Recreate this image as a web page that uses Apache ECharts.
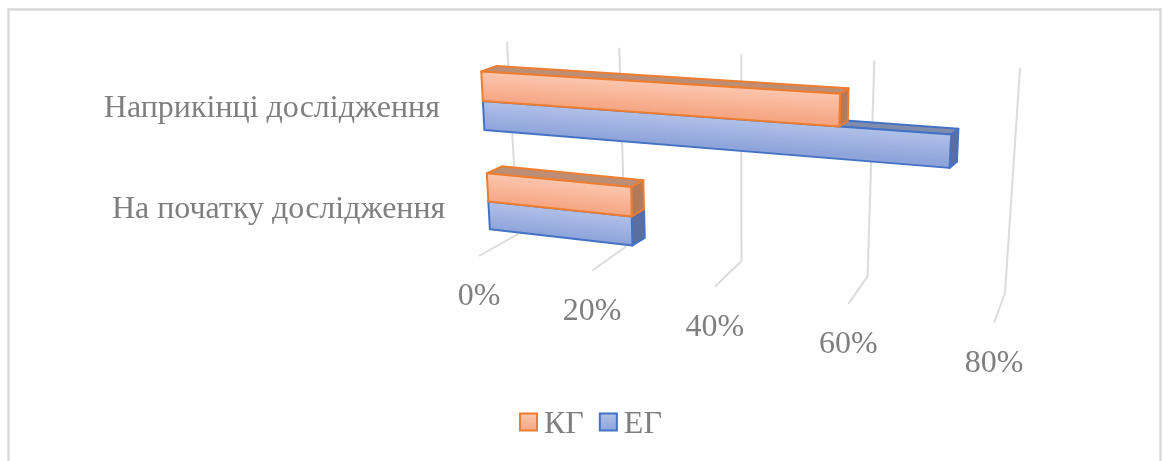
<!DOCTYPE html>
<html>
<head>
<meta charset="utf-8">
<style>
  html, body { margin: 0; padding: 0; background: #fff; }
  #main { width: 1163px; height: 461px; }
</style>
<script src="https://cdn.jsdelivr.net/npm/echarts@6/dist/echarts.min.js"></script>
</head>
<body>
<div id="main"></div>
<script>
// bottom row first, the category axis runs upwards
const categories = ['На початку дослідження', 'Наприкінці дослідження']
const kgValues = [25, 57]
const egValues = [25, 72.5]
const tickValues = [0, 20, 40, 60, 80]

const textColor = '#7f7f7f'
const serif = '"Liberation Serif", serif'

// flat plot area, everything in it goes through the perspective below
const gridBox = { left: 100, top: 50, width: 800, height: 300 }

// quad corners of each depth plane: floor-left, floor-right, top-right, top-left
const planes = {
  floor: [[479, 256], [994, 323], [1012, 75], [466, 45]],
  front: [[491, 250], [997, 311], [1012, 78], [480, 49]],
  back: [[506, 242], [1005, 304], [1018, 73], [495, 44]],
  wall: [[518, 234], [1005, 293], [1020, 68], [507, 42]],
}

function makePlane(q) {
  const [[x0, y0], [x1, y1], [x2, y2], [x3, y3]] = q
  const dx1 = x1 - x2
  const dx2 = x3 - x2
  const sx = x0 - x1 + x2 - x3
  const dy1 = y1 - y2
  const dy2 = y3 - y2
  const sy = y0 - y1 + y2 - y3
  const det = dx1 * dy2 - dx2 * dy1
  const g = (sx * dy2 - dx2 * sy) / det
  const h = (dx1 * sy - sx * dy1) / det
  const a = x1 - x0 + g * x1
  const b = x3 - x0 + h * x3
  const d = y1 - y0 + g * y1
  const e = y3 - y0 + h * y3
  // takes a pixel of the flat grid, gives the pixel on the plane
  return (p) => {
    const s = (p[0] - gridBox.left) / gridBox.width
    const t = (gridBox.top + gridBox.height - p[1]) / gridBox.height
    const w = g * s + h * t + 1
    return [(a * s + b * t + x0) / w, (d * s + e * t + y0) / w]
  }
}

const floorP = makePlane(planes.floor)
const frontP = makePlane(planes.front)
const backP = makePlane(planes.back)
const wallP = makePlane(planes.wall)

// gradient across a face: runs square to the long edge a-b, from a to the far edge through c
function faceGrad(a, b, c, from, to) {
  const ex = b[0] - a[0]
  const ey = b[1] - a[1]
  const len = Math.hypot(ex, ey) || 1
  const nx = -ey / len
  const ny = ex / len
  const dist = (c[0] - a[0]) * nx + (c[1] - a[1]) * ny
  return new echarts.graphic.LinearGradient(a[0], a[1], a[0] + nx * dist, a[1] + ny * dist, [
    { offset: 0, color: from },
    { offset: 1, color: to },
  ], true)
}

function boxItem(slot, edge, frontFill, topFill, sideFill) {
  return (params, api) => {
    const value = api.value(0)
    const row = api.value(1)
    const band = api.size([0, 1])[1]
    const thick = band * 0.285
    const mid = api.coord([0, row])[1]
    // slot 0 sits on the band centre and grows down, slot 1 grows up
    const yBottom = slot === 0 ? mid + thick : mid
    const yTop = yBottom - thick
    const x0 = api.coord([0, row])[0]
    const x1 = api.coord([value, row])[0]
    const fTL = frontP([x0, yTop])
    const fTR = frontP([x1, yTop])
    const fBR = frontP([x1, yBottom])
    const fBL = frontP([x0, yBottom])
    const bTL = backP([x0, yTop])
    const bTR = backP([x1, yTop])
    const bBR = backP([x1, yBottom])
    const common = { stroke: edge, lineWidth: 2, lineJoin: 'round' }
    return {
      type: 'group',
      children: [
        { type: 'polygon', shape: { points: [fTL, bTL, bTR, fTR] }, style: { fill: topFill, ...common } },
        { type: 'polygon', shape: { points: [fTR, bTR, bBR, fBR] }, style: { fill: sideFill, ...common } },
        {
          type: 'polygon',
          shape: { points: [fTL, fTR, fBR, fBL] },
          style: { fill: faceGrad(fTL, fTR, fBL, frontFill[0], frontFill[1]), ...common },
        },
      ],
    }
  }
}

function gridItem(params, api) {
  const value = api.value(0)
  const x = api.coord([value, 0])[0]
  const yLow = gridBox.top + gridBox.height
  const yTop = gridBox.top
  const end = floorP([x, yLow])
  return {
    type: 'group',
    children: [
      {
        type: 'polyline',
        shape: { points: [wallP([x, yTop]), wallP([x, yLow]), end] },
        style: { fill: 'none', stroke: '#dcdcdc', lineWidth: 2 },
      },
      {
        type: 'text',
        style: {
          text: value + '%',
          x: end[0],
          y: end[1] + 41,
          align: 'center',
          verticalAlign: 'middle',
          fill: textColor,
          font: '32px ' + serif,
        },
      },
    ],
  }
}

function categoryItem(params, api) {
  const row = api.value(0)
  const p = api.coord([0, row])
  const at = frontP(p)
  return {
    type: 'text',
    style: {
      text: categories[row],
      x: at[0] - 43,
      y: at[1] + 8,
      align: 'right',
      verticalAlign: 'middle',
      fill: textColor,
      font: '32px ' + serif,
    },
  }
}

const myChart = echarts.init(document.getElementById('main'))

const kgFront = ['#fcc6ae', '#f5a683']
const egFront = ['#b0c0e8', '#8ea4da']
const swatch = (c) => new echarts.graphic.LinearGradient(0, 0, 0, 1, [
  { offset: 0, color: c[0] },
  { offset: 1, color: c[1] },
])

const option = {
  animation: false,
  backgroundColor: '#fff',
  graphic: [
    {
      type: 'rect',
      silent: true,
      shape: { x: 8.5, y: 9.5, width: 1152, height: 470 },
      style: { fill: 'none', stroke: '#d9d9d9', lineWidth: 2.4 },
    },
  ],
  legend: {
    data: [
      { name: 'КГ', itemStyle: { color: swatch(kgFront), borderColor: '#ed7d31', borderWidth: 2 } },
      { name: 'ЕГ', itemStyle: { color: swatch(egFront), borderColor: '#4472c4', borderWidth: 2 } },
    ],
    left: 514,
    top: 404,
    icon: 'rect',
    itemWidth: 17,
    itemHeight: 17,
    itemGap: 15,
    formatter: '{t|{name}}',
    textStyle: {
      rich: {
        t: { color: textColor, fontFamily: serif, fontSize: 32, padding: [6, 0, 0, 2] },
      },
    },
  },
  grid: { ...gridBox },
  xAxis: { type: 'value', min: 0, max: 80, interval: 20, show: false },
  yAxis: { type: 'category', data: categories, show: false },
  series: [
    {
      name: 'grid',
      type: 'custom',
      renderItem: gridItem,
      data: tickValues.map((v) => [v]),
      z: 1,
      silent: true,
    },
    {
      name: 'ЕГ',
      type: 'custom',
      renderItem: boxItem(0, '#4472c4', egFront, '#7f8cab', '#5b6e9f'),
      data: egValues.map((v, i) => [v, i]),
      itemStyle: { color: '#4472c4' },
      z: 2,
    },
    {
      name: 'КГ',
      type: 'custom',
      renderItem: boxItem(1, '#ed7d31', kgFront, '#bc8e75', '#b37a5a'),
      data: kgValues.map((v, i) => [v, i]),
      itemStyle: { color: '#ed7d31' },
      z: 3,
    },
    {
      name: 'labels',
      type: 'custom',
      renderItem: categoryItem,
      data: categories.map((c, i) => [i]),
      z: 4,
      silent: true,
    },
  ],
}

myChart.setOption(option)
</script>
</body>
</html>
